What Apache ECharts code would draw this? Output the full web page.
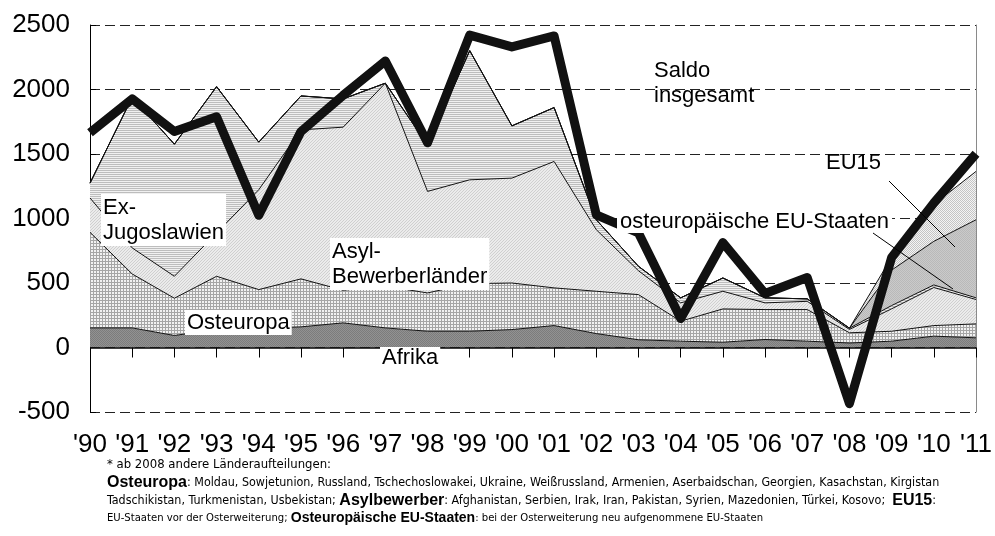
<!DOCTYPE html>
<html>
<head>
<meta charset="utf-8">
<script src="https://cdn.jsdelivr.net/npm/echarts@6.0.0/dist/echarts.min.js"></script>
<style>
  html, body { margin: 0; padding: 0; background: #fff; }
  #chart { width: 995px; height: 536px; }
</style>
</head>
<body>
<div id="chart"></div>
<script>
// Jahre (Kategorien)
const years = ["'90", "'91", "'92", "'93", "'94", "'95", "'96", "'97", "'98", "'99", "'00",
  "'01", "'02", "'03", "'04", "'05", "'06", "'07", "'08", "'09", "'10", "'11"]

// gestapelte Herkunftsgruppen
const afrika = [152, 152, 93, 140, 150, 160, 191, 152, 126, 126, 139, 170, 108, 60, 49, 41, 62, 49, 35, 49, 88, 75]
const osteuropa = [741, 418, 289, 412, 299, 372, 253, 323, 297, 369, 361, 292, 328, 350, 155, 258, 232, 245, 79, 77, 82, 108]
const asyl = [266, 202, 170, 336, 774, 1155, 1264, 1574, 787, 805, 813, 980, 477, 185, 142, 137, 52, 64, 26, 174, 295, 189]
const exJugo = [115, 1168, 1024, 1134, 369, 263, 219, 0, 360, 1001, 405, 418, 77, 34, 39, 103, 39, 19, 10, 25, 20, 13]
const ostEU = [0, 0, 0, 0, 0, 0, 0, 0, 0, 0, 0, 0, 0, 0, 0, 0, 0, 0, 0, 275, 338, 605]
const eu15 = [0, 0, 0, 0, 0, 0, 0, 0, 0, 0, 0, 0, 0, 0, 0, 0, 0, 0, 0, 100, 287, 375]

// Saldo insgesamt
const saldo = [1664, 1927, 1674, 1788, 1025, 1674, 1955, 2221, 1587, 2422, 2330, 2415, 1029, 888, 224, 813, 418, 542, -435, 697, 1120, 1502]

const FONT = '"Liberation Sans", Arial, sans-serif'
const NARROW = '"Liberation Sans Narrow", "Arial Narrow", "DejaVu Sans Condensed", sans-serif'

// kleine Raster-Muster wie im Original (Schraffuren)
const pattern = (w, h, draw) => {
  const c = document.createElement('canvas')
  c.width = w
  c.height = h
  const g = c.getContext('2d')
  draw(g)
  return { image: c, repeat: 'repeat' }
}
const px = (g, col, pts) => {
  g.fillStyle = col
  pts.forEach(p => g.fillRect(p[0], p[1], 1, 1))
}

const patAfrika = pattern(2, 2, g => {
  g.fillStyle = '#929292'; g.fillRect(0, 0, 2, 2)
  px(g, '#7c7c7c', [[0, 0], [1, 1]])
})
const patOst = pattern(3, 3, g => {
  g.fillStyle = '#f2f2f2'; g.fillRect(0, 0, 3, 3)
  g.fillStyle = '#a6a6a6'; g.fillRect(0, 0, 3, 1); g.fillRect(0, 0, 1, 3)
})
const patAsyl = pattern(3, 3, g => {
  g.fillStyle = '#ebebeb'; g.fillRect(0, 0, 3, 3)
  px(g, '#cfcfcf', [[0, 2], [1, 1], [2, 0]])
})
const patJugo = pattern(1, 2, g => {
  g.fillStyle = '#f0f0f0'; g.fillRect(0, 0, 1, 2)
  px(g, '#bdbdbd', [[0, 0]])
})
const patOstEU = pattern(2, 2, g => {
  g.fillStyle = '#cacaca'; g.fillRect(0, 0, 2, 2)
  px(g, '#b9b9b9', [[0, 0], [1, 1]])
})
const patEU15 = pattern(2, 2, g => {
  g.fillStyle = '#f4f4f4'; g.fillRect(0, 0, 2, 2)
  px(g, '#c4c4c4', [[0, 0], [1, 1]])
})

const areaSeries = (name, data, color) => ({
  name,
  type: 'line',
  stack: 'gesamt',
  data,
  symbol: 'none',
  z: 2,
  lineStyle: { width: 1, color: '#111' },
  areaStyle: { color, opacity: 1 }
})

const chart = echarts.init(document.getElementById('chart'), null, { renderer: 'canvas' })

const boxLabel = (text, x, y, extra) => ({
  type: 'text',
  x, y, z: 100,
  style: Object.assign({
    text,
    font: '22px ' + FONT,
    fill: '#000',
    lineHeight: 25,
    backgroundColor: '#fff',
    padding: [1, 2]
  }, extra || {})
})

const noteLine = (text, y) => ({
  type: 'text',
  x: 107, y, z: 100,
  style: {
    text,
    verticalAlign: 'middle',
    rich: {
      h: { font: '13px ' + NARROW, fill: '#000' },
      n: { font: '12.4px ' + NARROW, fill: '#000' },
      m: { font: '11.2px ' + NARROW, fill: '#000' },
      b: { font: 'bold 16px ' + FONT, fill: '#000' },
      c: { font: 'bold 14px ' + FONT, fill: '#000' }
    }
  }
})

const option = {
  animation: false,
  backgroundColor: '#fff',
  grid: { left: 90, right: 16, top: 25, bottom: 124 },
  xAxis: {
    type: 'category',
    data: years,
    boundaryGap: false,
    axisLine: { show: false },
    axisTick: { show: true, length: 10, lineStyle: { color: '#000' } },
    axisLabel: { interval: 0, margin: 20, fontSize: 26, fontFamily: FONT, color: '#000' },
    splitLine: { show: false }
  },
  yAxis: [
    {
      type: 'value',
      min: -500,
      max: 2500,
      interval: 500,
      axisLine: { show: true, lineStyle: { color: '#000' } },
      axisTick: { show: true, inside: true, length: 6, lineStyle: { color: '#000' } },
      axisLabel: { margin: 20, fontSize: 26, fontFamily: FONT, color: '#000', formatter: v => String(v) },
      splitLine: { show: true, lineStyle: { color: '#222', type: [10, 5], width: 1 } }
    },
    {
      type: 'value',
      position: 'right',
      min: -500,
      max: 2500,
      interval: 500,
      axisLine: { show: true, lineStyle: { color: '#8a8a8a' } },
      axisTick: { show: false },
      axisLabel: { show: false },
      splitLine: { show: false }
    }
  ],
  series: [
    Object.assign(areaSeries('Afrika', afrika, patAfrika), {
      markLine: {
        silent: true,
        symbol: 'none',
        label: { show: false },
        lineStyle: { color: '#000', type: 'solid', width: 1.5 },
        data: [{ yAxis: 0 }]
      }
    }),
    areaSeries('Osteuropa', osteuropa, patOst),
    areaSeries('Asyl-Bewerberländer', asyl, patAsyl),
    areaSeries('Ex-Jugoslawien', exJugo, patJugo),
    areaSeries('osteuropäische EU-Staaten', ostEU, patOstEU),
    areaSeries('EU15', eu15, patEU15),
    {
      name: 'Saldo insgesamt',
      type: 'line',
      data: saldo,
      symbol: 'none',
      z: 10,
      lineStyle: { width: 9, color: '#111', join: 'round', cap: 'butt' }
    }
  ],
  graphic: [
    { type: 'text', x: 654, y: 58, z: 100,
      style: { text: 'Saldo\ninsgesamt', font: '22px ' + FONT, fill: '#000', lineHeight: 25 } },
    { type: 'text', x: 826, y: 152, z: 100,
      style: { text: 'EU15', font: '22px ' + FONT, fill: '#000' } },
    boxLabel('osteuropäische EU-Staaten', 617, 210, { padding: [0, 3], lineHeight: 23 }),
    boxLabel('Ex-\nJugoslawien', 101, 194),
    boxLabel('Asyl-\nBewerberländer', 330, 238),
    boxLabel('Osteuropa', 185, 310, { padding: [0, 2] }),
    boxLabel('Afrika', 380, 347, { padding: [0, 2], lineHeight: 22 }),
    { type: 'line', z: 100, shape: { x1: 889, y1: 181, x2: 955, y2: 247 }, style: { stroke: '#000', lineWidth: 1 } },
    { type: 'line', z: 100, shape: { x1: 873, y1: 233, x2: 953, y2: 289 }, style: { stroke: '#000', lineWidth: 1 } },
    noteLine('{h|* ab 2008 andere Länderaufteilungen:}', 465),
    noteLine('{b|Osteuropa}{n|: Moldau, Sowjetunion, Russland, Tschechoslowakei, Ukraine, Weißrussland, Armenien, Aserbaidschan, Georgien, Kasachstan, Kirgistan}', 483),
    noteLine('{n|Tadschikistan, Turkmenistan, Usbekistan; }{b|Asylbewerber}{n|: Afghanistan, Serbien, Irak, Iran, Pakistan, Syrien, Mazedonien, Türkei, Kosovo;  }{b|EU15}{n|:}', 501),
    noteLine('{m|EU-Staaten vor der Osterweiterung; }{c|Osteuropäische EU-Staaten}{m|: bei der Osterweiterung neu aufgenommene EU-Staaten}', 518)
  ]
}

chart.setOption(option)

window.addEventListener('resize', () => chart.resize())
</script>
</body>
</html>
